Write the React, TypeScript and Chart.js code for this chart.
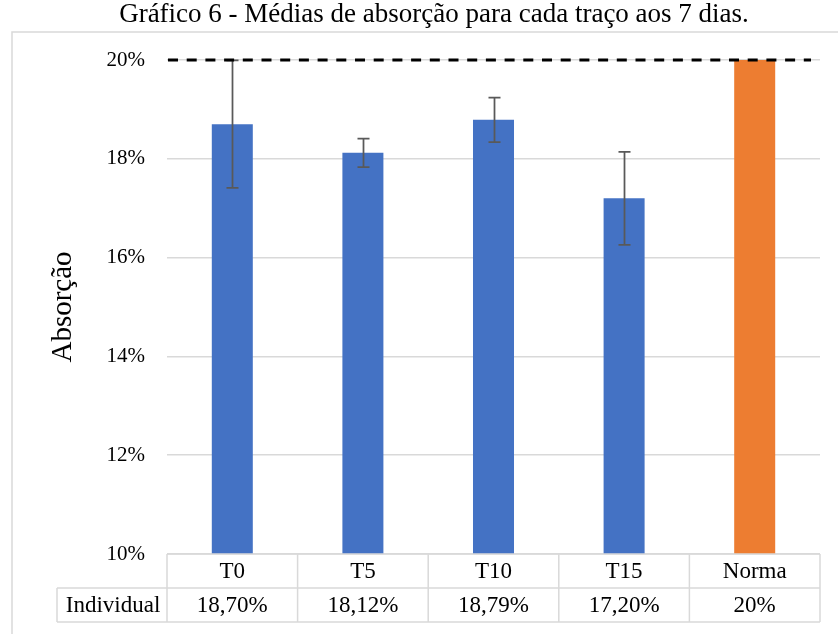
import React, { useEffect, useRef } from "react";
import { Chart, registerables } from "chart.js";

Chart.register(...registerables);

const title = "Gráfico 6 - Médias de absorção para cada traço aos 7 dias.";
const categories = ["T0", "T5", "T10", "T15", "Norma"];
const means = [18.7, 18.12, 18.79, 17.2, 20];
const errors = [1.29, 0.29, 0.45, 0.94, 0];
const tableValues = ["18,70%", "18,12%", "18,79%", "17,20%", "20%"];
const rowLabel = "Individual";
const normaLine = 20;
const barColors = ["#4472C4", "#4472C4", "#4472C4", "#4472C4", "#ED7D31"];
const yMin = 10;
const yMax = 20;
const yStep = 2;

const FONT = "'Times New Roman', 'Liberation Serif', serif";
const GRID = "#d9d9d9";

const decorPlugin = {
  id: "decor",
  beforeDraw(chart: any) {
    const ctx = chart.ctx;
    ctx.save();
    ctx.strokeStyle = GRID;
    ctx.lineWidth = 1.5;
    ctx.strokeRect(12, 32, chart.width + 20, chart.height + 20);
    ctx.fillStyle = "#000";
    ctx.font = `27px ${FONT}`;
    ctx.textAlign = "center";
    ctx.textBaseline = "middle";
    ctx.fillText(title, 434, 15);
    ctx.restore();
  },
  afterDatasetsDraw(chart: any) {
    const ctx = chart.ctx;
    const xs = chart.scales.x;
    const ys = chart.scales.y;
    const area = chart.chartArea;
    ctx.save();
    ctx.strokeStyle = "#595959";
    ctx.lineWidth = 1.75;
    means.forEach((m, i) => {
      const e = errors[i];
      if (!e) return;
      const cx = Math.round(xs.getPixelForValue(i)) + 0.5;
      const yt = ys.getPixelForValue(m + e);
      const yb = ys.getPixelForValue(m - e);
      ctx.beginPath();
      ctx.moveTo(cx, yt);
      ctx.lineTo(cx, yb);
      ctx.moveTo(cx - 6, yt);
      ctx.lineTo(cx + 6, yt);
      ctx.moveTo(cx - 6, yb);
      ctx.lineTo(cx + 6, yb);
      ctx.stroke();
    });
    const ny = ys.getPixelForValue(normaLine);
    ctx.strokeStyle = "#000";
    ctx.lineWidth = 3;
    ctx.setLineDash([10, 8.7]);
    ctx.beginPath();
    ctx.moveTo(area.left + 1, ny);
    ctx.lineTo(area.right - 9, ny);
    ctx.stroke();
    ctx.setLineDash([]);
    ctx.restore();
  },
  afterDraw(chart: any) {
    const ctx = chart.ctx;
    const xs = chart.scales.x;
    const area = chart.chartArea;
    const n = categories.length;
    const w = (area.right - area.left) / n;
    const rowH = 34;
    const top = area.bottom;
    const labelLeft = 57;
    ctx.save();
    ctx.strokeStyle = GRID;
    ctx.lineWidth = 1.5;
    ctx.beginPath();
    ctx.moveTo(area.left, top);
    ctx.lineTo(area.right, top);
    ctx.moveTo(labelLeft, top + rowH);
    ctx.lineTo(area.right, top + rowH);
    ctx.moveTo(labelLeft, top + 2 * rowH);
    ctx.lineTo(area.right, top + 2 * rowH);
    ctx.moveTo(labelLeft, top + rowH);
    ctx.lineTo(labelLeft, top + 2 * rowH);
    for (let i = 0; i <= n; i++) {
      const ex = area.left + i * w;
      ctx.moveTo(ex, top);
      ctx.lineTo(ex, top + 2 * rowH);
    }
    ctx.stroke();
    ctx.fillStyle = "#000";
    ctx.font = `23px ${FONT}`;
    ctx.textAlign = "center";
    ctx.textBaseline = "middle";
    categories.forEach((c, i) => {
      const cx = xs.getPixelForValue(i);
      ctx.fillText(c, cx, top + rowH / 2 + 1);
      ctx.fillText(tableValues[i], cx, top + rowH * 1.5 + 1);
    });
    ctx.fillText(rowLabel, (labelLeft + area.left) / 2 + 1, top + rowH * 1.5 + 1);
    ctx.restore();
  },
};

export default function App() {
  const ref = useRef<HTMLCanvasElement>(null);
  useEffect(() => {
    if (!ref.current) return;
    const chart = new Chart(ref.current, {
      type: "bar",
      data: {
        labels: categories,
        datasets: [
          {
            data: means,
            backgroundColor: barColors,
            borderWidth: 0,
            categoryPercentage: 1,
            barPercentage: 0.314,
          },
        ],
      },
      options: {
        responsive: false,
        animation: false,
        layout: { padding: { left: 12, top: 60, right: 18, bottom: 80 } },
        plugins: {
          legend: { display: false },
          tooltip: { enabled: false },
          title: { display: false },
        },
        scales: {
          x: { display: false },
          y: {
            min: yMin,
            max: yMax,
            border: { display: false },
            grid: { color: GRID, lineWidth: 1.5, drawTicks: false },
            ticks: {
              stepSize: yStep,
              padding: 22,
              color: "#000",
              font: { family: FONT, size: 21 },
              callback: (v: any) => `${v}%`,
            },
            title: {
              display: true,
              text: "Absorção",
              color: "#000",
              font: { family: FONT, size: 29 },
              padding: { top: 34, bottom: 0 },
            },
            afterFit: (s: any) => {
              s.width = 155;
            },
          },
        },
      },
      plugins: [decorPlugin],
    });
    return () => chart.destroy();
  }, []);
  return (
    <div style={{ position: "absolute", left: 0, top: 0, width: 838, height: 634 }}>
      <canvas ref={ref} width={838} height={634} style={{ width: 838, height: 634 }} />
    </div>
  );
}
